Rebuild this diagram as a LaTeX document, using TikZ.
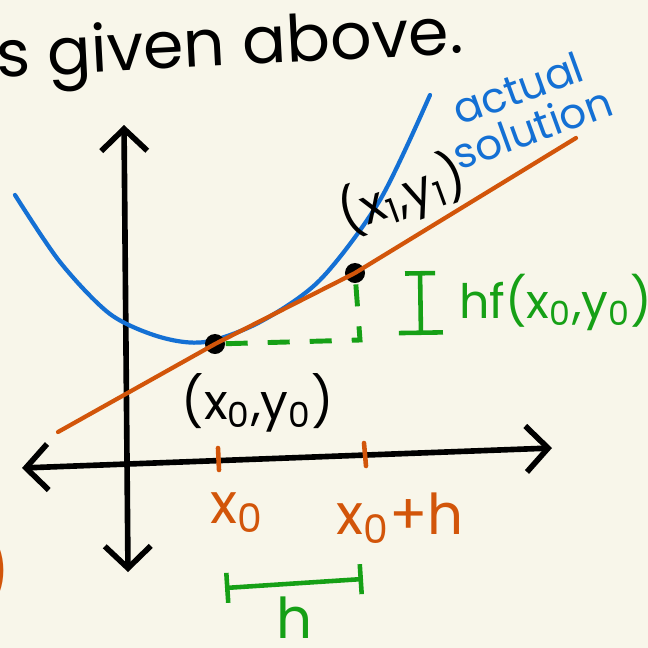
\documentclass[tikz,border=0pt]{standalone}
\usepackage{fontspec}
\setmainfont{Poppins}
\usetikzlibrary{arrows.meta}
\usetikzlibrary{positioning}

\definecolor{paper}{RGB}{248,246,234}
\definecolor{eulerorange}{RGB}{210,85,10}
\definecolor{solblue}{RGB}{20,112,212}
\definecolor{stepgreen}{RGB}{22,160,22}

\begin{document}
\begin{tikzpicture}[
    x=0.01cm, y=-0.01cm,
    % Define axis style
    axis/.style={line width=1.6pt, line cap=round,
      {Straight Barb[length=2.2mm, width=4.6mm, line width=1.6pt]}-{Straight Barb[length=2.2mm, width=4.6mm, line width=1.6pt]}},
    euler/.style={eulerorange, line width=1.2pt, line cap=round},
    actual/.style={solblue, line width=1.2pt, line cap=round},
    stepdash/.style={stepgreen, line width=1.4pt, dash pattern=on 0.22cm off 0.2cm},
    bracket/.style={stepgreen, line width=1.3pt},
    dot/.style={circle, fill=black, minimum size=0.2cm, inner sep=0pt},
    tick/.style={eulerorange, line width=1.3pt, line cap=round},
    hand/.style={inner sep=1pt, font=\fontsize{14}{16}\selectfont} % Style for hand-written labels
]

% Paper and fixed frame
\fill[paper] (0,0) rectangle (648,648);
\useasboundingbox (0,0) rectangle (648,648);

% Title line, cut at the left edge
\node[hand, font=\fontsize{18.5}{22}\selectfont, rotate=3, anchor=west] (title) at (-8,62) {s given above.};

% Axes
\coordinate (ytop) at (124,125);
\coordinate (ybot) at (128,572);
\coordinate (xleft) at (22,468);
\coordinate (xright) at (552,448);
\draw[axis] (ybot) -- (ytop);
\draw[axis] (xleft) -- (xright);

% Actual solution
\draw[actual] plot[smooth] coordinates {(15,195) (60,262) (110,314) (160,337) (205,342) (260,322) (320,280) (380,200) (430,95)};

% Euler points on the tangent line
\node[dot] (p0) at (215,344) {};
\node[dot] (p1) at (355,273) {};
\coordinate (estart) at (58,432);
\coordinate (eend) at (576,138);
\draw[euler] (estart) -- (p0.center) -- (p1.center) -- (eend);

% Step rise and run
\coordinate (corner) at (360,340);
\draw[stepdash] (p0) -- (corner) -- (p1);

% Rise bracket
\coordinate (risetop) at (420,271);
\coordinate (risebot) at (421,335);
\draw[bracket, {Bar[width=3mm]}-{Bar[width=4.4mm]}] (risetop) -- (risebot);
\node[hand, stepgreen, font=\fontsize{13.5}{16}\selectfont, anchor=west] (rise) at (455,302) {hf(x\textsubscript{0},y\textsubscript{0})};

% Point labels
\node[hand] (l0) at (258,403) {(x\textsubscript{0},y\textsubscript{0})};
\node[hand, rotate=20, anchor=south] (l1) at (414,227) {(x\textsubscript{1},y\textsubscript{1})};

% Ticks on the x axis
\coordinate (t0top) at (218,448);
\coordinate (t0bot) at (219,470);
\coordinate (t1top) at (364,443);
\coordinate (t1bot) at (366,466);
\draw[tick] (t0top) -- (t0bot);
\draw[tick] (t1top) -- (t1bot);
\node[hand, eulerorange, font=\fontsize{16}{19}\selectfont] (x0) at (237,513) {x\textsubscript{0}};
\node[hand, eulerorange, font=\fontsize{16}{19}\selectfont] (x0h) at (400,518) {x\textsubscript{0}+h};

% Step width
\coordinate (hleft) at (225,588);
\coordinate (hright) at (363,579);
\draw[bracket, {Bar[width=3mm]}-{Bar[width=3mm]}] (hleft) -- (hright);
\node[hand, stepgreen, font=\fontsize{16}{19}\selectfont] (hlab) at (295,618) {h};

% Curve label
\node[hand, solblue, rotate=20, align=center, font=\fontsize{12}{12}\selectfont] (sol) at (525,108) {actual\\solution};

% Cut-off bracket at the left edge
\node[hand, eulerorange, font=\fontsize{20}{24}\selectfont] (stray) at (-5,570) {)};

\end{tikzpicture}
\end{document}
